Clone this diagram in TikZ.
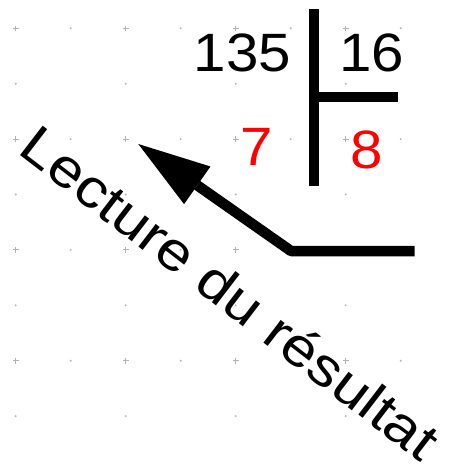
\documentclass[tikz,border=0pt]{standalone}
\usepackage{fontspec}
\setmainfont{Liberation Sans}
\usetikzlibrary{arrows.meta}
\begin{document}
\begin{tikzpicture}[x=1pt,y=-1pt,
  plusmark/.pic={\draw[draw=black!30,line width=1.1pt] (-2.8,0)--(2.8,0) (0,-2.8)--(0,2.8);},
  griddot/.style={fill=black!28},
  bar/.style={line width=10.5pt, line cap=butt},
  num/.style={inner sep=0pt, anchor=base, font=\fontsize{54}{60}\selectfont, xscale=1.08},
  redtext/.style={text=red},
  label/.style={inner sep=0pt, anchor=base west, font=\fontsize{54}{60}\selectfont, rotate=-37.5, xscale=1.14}
]
\useasboundingbox (0,0) rectangle (448,469);
\fill[white] (0,0) rectangle (448,469);
% grid
\foreach \i in {0,2,4,6} \foreach \j in {0,2,4,6}
  \pic at (15.7+55*\i, 28.3+55.4*\j) {plusmark};
\foreach \i in {1,3,5,7} \foreach \j in {0,2,4,6}
  \fill[griddot] (15.7+55*\i, 28.3+55.4*\j) circle (1.1);
\foreach \i in {0,2,4,6} \foreach \j in {1,3,5,7}
  \fill[griddot] (15.7+55*\i, 28.3+55.4*\j) circle (1.1);
% division bracket
\coordinate (vtop) at (313.8,9.3);
\coordinate (vbot) at (313.8,185.7);
\coordinate (hleft) at (313.8,97);
\coordinate (hright) at (398.3,97);
\draw[bar] (vtop) -- (vbot);
\draw[bar] (hleft) -- (hright);
% numbers
\node[num] (dividend) at (242.5,71) {135};
\node[num] (divisor) at (371.7,71) {16};
\node[num,redtext] (quotient) at (257,165.6) {7};
\node[num,redtext] (remainder) at (366.7,168) {8};
% arrow
\coordinate (astart) at (414.7,251);
\coordinate (acorner) at (291,251);
\coordinate (atip) at (138.3,144);
\draw[bar, line join=bevel, -{Triangle[length=72pt,width=46pt,line width=0pt]}] (astart) -- (acorner) -- (atip);
% rotated label
\node[label] (lecture) at (16,152.5) {Lecture du résultat};
\end{tikzpicture}
\end{document}
